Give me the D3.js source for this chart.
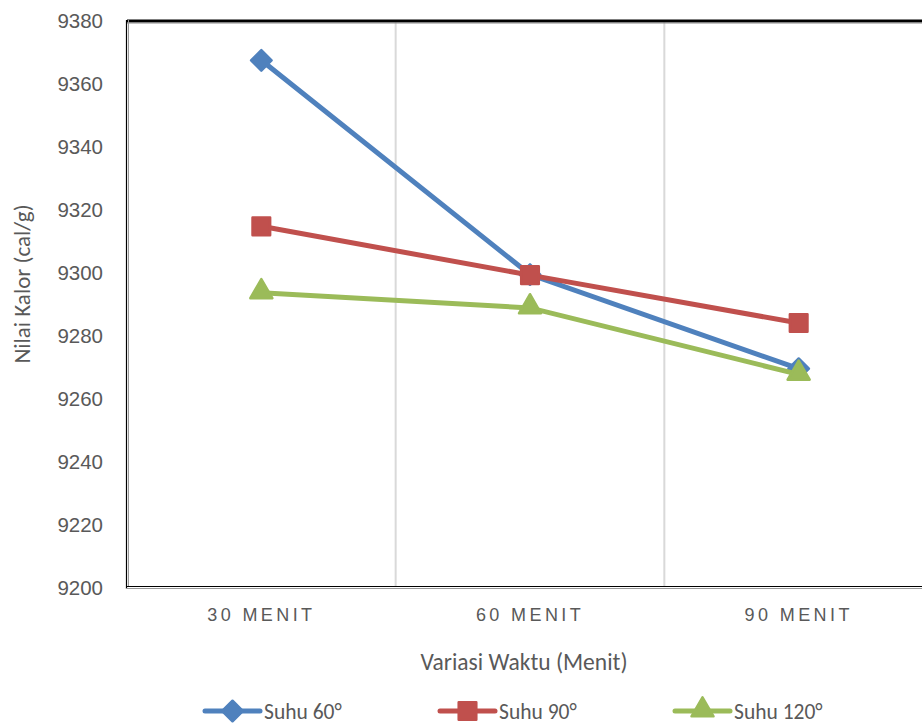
<!DOCTYPE html>
<html>
<head>
<meta charset="utf-8">
<script src="https://cdn.jsdelivr.net/npm/d3@7"></script>
<style>
  body { margin: 0; background: #fff; }
  svg { display: block; font-family: Carlito, Calibri, Lato, sans-serif; }
</style>
</head>
<body>
<div id="chart"></div>
<script>
// categories + series values
var categories = ["30 MENIT", "60 MENIT", "90 MENIT"];
var suhu60 = [9367.2, 9299.2, 9269.3];
var suhu90 = [9314.5, 9299.0, 9283.8];
var suhu120 = [9293.4, 9288.6, 9267.5];
var yTicks = [9200, 9220, 9240, 9260, 9280, 9300, 9320, 9340, 9360, 9380];
var seriesNames = ["Suhu 60°", "Suhu 90°", "Suhu 120°"];

var W = 922, H = 724;
var plotLeft = 127, plotTop = 20, plotBottom = 587, plotRight = 933;
var textColor = "#595959";

var SERIES = [
  { name: seriesNames[0], values: suhu60, color: "#4F81BD", shape: "diamond" },
  { name: seriesNames[1], values: suhu90, color: "#C0504D", shape: "square" },
  { name: seriesNames[2], values: suhu120, color: "#9BBB59", shape: "triangle" }
];

var svg = d3.select("#chart").append("svg")
  .attr("width", W)
  .attr("height", H);

var x = d3.scaleBand().domain(categories).range([plotLeft, plotRight]).padding(0);
var y = d3.scaleLinear().domain([9200, 9380]).range([plotBottom, plotTop]);

var cx = function(c) { return x(c) + x.bandwidth() / 2; };

// vertical gridlines between categories
svg.selectAll("line.grid")
  .data(categories.slice(1))
  .enter().append("line")
  .attr("class", "grid")
  .attr("x1", function(d) { return x(d); })
  .attr("x2", function(d) { return x(d); })
  .attr("y1", plotTop)
  .attr("y2", plotBottom)
  .attr("stroke", "#d9d9d9").attr("stroke-width", 2);

// plot borders (thick top, double left/bottom)
svg.append("line").attr("x1", plotLeft).attr("x2", W).attr("y1", plotTop + 1).attr("y2", plotTop + 1)
  .attr("stroke", "#000").attr("stroke-width", 3);
svg.append("line").attr("x1", plotLeft).attr("x2", W).attr("y1", plotTop + 3).attr("y2", plotTop + 3)
  .attr("stroke", "#888").attr("stroke-width", 1);
svg.append("line").attr("x1", plotLeft - 0.5).attr("x2", plotLeft - 0.5).attr("y1", plotTop).attr("y2", plotBottom + 2)
  .attr("stroke", "#000").attr("stroke-width", 1.2);
svg.append("line").attr("x1", plotLeft + 1.5).attr("x2", plotLeft + 1.5).attr("y1", plotTop).attr("y2", plotBottom)
  .attr("stroke", "#999").attr("stroke-width", 1);
svg.append("line").attr("x1", plotLeft).attr("x2", W).attr("y1", plotBottom - 0.5).attr("y2", plotBottom - 0.5)
  .attr("stroke", "#000").attr("stroke-width", 1.2);
svg.append("line").attr("x1", plotLeft - 1).attr("x2", W).attr("y1", plotBottom + 1.5).attr("y2", plotBottom + 1.5)
  .attr("stroke", "#999").attr("stroke-width", 1);

// y axis
var yAxis = svg.append("g")
  .attr("transform", "translate(" + (plotLeft - 24) + ",0)")
  .call(d3.axisLeft(y).tickValues(yTicks).tickFormat(d3.format("d")).tickSize(0).tickPadding(0));
yAxis.select(".domain").remove();
yAxis.selectAll("text")
  .attr("fill", textColor)
  .style("font-size", "20.5px")
  .attr("dy", "0.36em");

// x axis
var xAxis = svg.append("g")
  .attr("transform", "translate(0," + plotBottom + ")")
  .call(d3.axisBottom(x).tickSize(0).tickPadding(0));
xAxis.select(".domain").remove();
xAxis.selectAll("text")
  .attr("fill", textColor)
  .attr("y", 34)
  .attr("dy", 0)
  .style("font-size", "18px")
  .style("letter-spacing", "3.4px");

// axis titles
svg.append("text")
  .attr("x", 524).attr("y", 670)
  .attr("text-anchor", "middle")
  .attr("fill", textColor)
  .style("font-size", "23.5px")
  .text("Variasi Waktu (Menit)");

svg.append("text")
  .attr("transform", "translate(30,284) rotate(-90)")
  .attr("text-anchor", "middle")
  .attr("fill", textColor)
  .style("font-size", "23px")
  .text("Nilai Kalor (cal/g)");

function markerPath(shape) {
  if (shape == "diamond") return d3.symbol(d3.symbolSquare, 210)();
  if (shape == "square") return d3.symbol(d3.symbolSquare, 310)();
  return d3.symbol(d3.symbolTriangle, 210)();
}
function markerTransform(shape, px, py) {
  if (shape == "diamond") return "translate(" + px + "," + py + ") rotate(45)";
  if (shape == "triangle") return "translate(" + px + "," + (py - 1) + ")";
  return "translate(" + px + "," + py + ")";
}

var line = d3.line()
  .x(function(d, i) { return cx(categories[i]); })
  .y(function(d) { return y(d); });

SERIES.forEach(function(s) {
  var g = svg.append("g");
  g.append("path")
    .attr("d", line(s.values))
    .attr("fill", "none")
    .attr("stroke", s.color)
    .attr("stroke-width", 5)
    .attr("stroke-linecap", "round");
  g.selectAll("path.mk")
    .data(s.values)
    .enter().append("path")
    .attr("class", "mk")
    .attr("d", markerPath(s.shape))
    .attr("transform", function(d, i) { return markerTransform(s.shape, cx(categories[i]), y(d)); })
    .attr("fill", s.color)
    .attr("stroke", s.color)
    .attr("stroke-width", 2.5)
    .attr("stroke-linejoin", "round");
});

// legend
var legendX = [205, 440, 675];
var legendY = 711;
SERIES.forEach(function(s, i) {
  var lg = svg.append("g").attr("transform", "translate(" + legendX[i] + "," + legendY + ")");
  lg.append("line")
    .attr("x1", 0).attr("x2", 55).attr("y1", 0).attr("y2", 0)
    .attr("stroke", s.color).attr("stroke-width", 5).attr("stroke-linecap", "round");
  lg.append("path")
    .attr("d", markerPath(s.shape))
    .attr("transform", markerTransform(s.shape, 27.5, 0))
    .attr("fill", s.color).attr("stroke", s.color)
    .attr("stroke-width", 2.5).attr("stroke-linejoin", "round");
  lg.append("text")
    .attr("x", 59).attr("y", 0).attr("dy", "0.36em")
    .attr("fill", textColor)
    .style("font-size", "21.5px")
    .text(s.name);
});
</script>
</body>
</html>
